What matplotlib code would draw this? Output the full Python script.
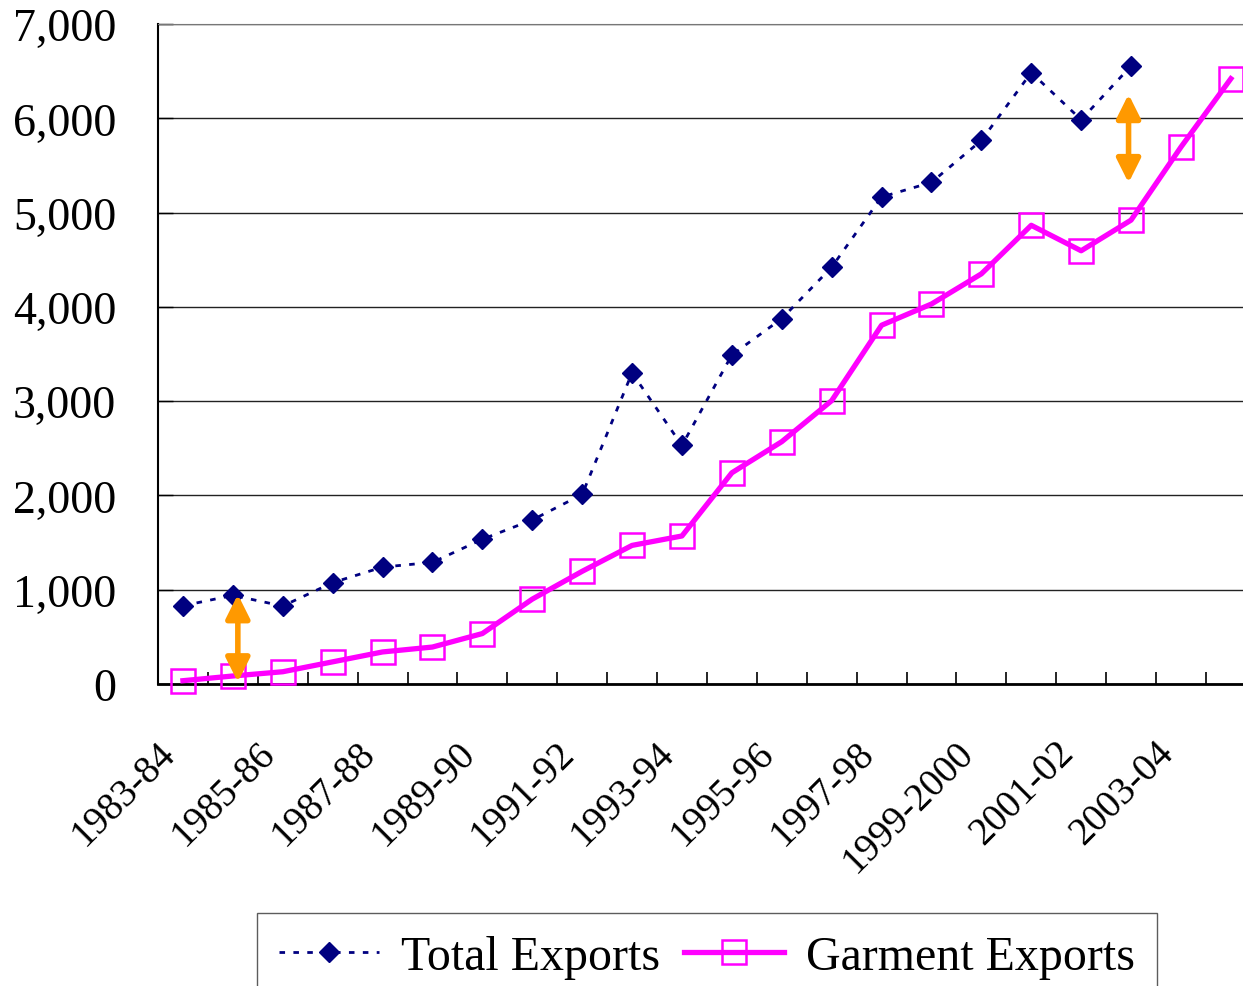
import numpy as np
import matplotlib
matplotlib.use("Agg")
import matplotlib.pyplot as plt

plt.rcParams['font.family'] = ['Liberation Serif', 'DejaVu Serif']

# fiscal years on the x axis
years = ["1983-84", "1984-85", "1985-86", "1986-87", "1987-88", "1988-89",
         "1989-90", "1990-91", "1991-92", "1992-93", "1993-94", "1994-95",
         "1995-96", "1996-97", "1997-98", "1998-99", "1999-2000", "2000-01",
         "2001-02", "2002-03", "2003-04", "2004-05"]

# values (US$ million)
total_exports = [830, 940, 827, 1075, 1240, 1290, 1535, 1740, 2010, 3300,
                 2530, 3490, 3875, 4420, 5165, 5320, 5765, 6485, 5985, 6555]
garment_exports = [35, 85, 130, 235, 340, 392, 535, 900, 1195, 1470,
                   1570, 2240, 2570, 3005, 3805, 4030, 4350, 4865, 4595, 4920,
                   5695, 6420]

# the two gap arrows: (x position in category units, low, high)
gap_arrows = [(1.1, 20, 950), (18.95, 5315, 6255)]

W, H = 1243, 987
fig = plt.figure(figsize=(W / 100, H / 100), dpi=100)
left_px, bottom_px, top_px = 158, 685, 25
ax = fig.add_axes([left_px / W, 1 - bottom_px / H,
                   (W - left_px) / W, (bottom_px - top_px) / H])

step = 49.9  # pixels per category
x_tot = np.arange(len(total_exports))
x_gar = np.arange(len(garment_exports))

ax.plot(x_tot, total_exports, color='#000080', lw=2, linestyle=(0, (2, 3)),
        marker='D', ms=10.5, mfc='#000080', mec='#000080',
        label='Total Exports', clip_on=False, zorder=4)
ax.plot(x_gar, garment_exports, color='#FF00FF', lw=3.8,
        marker='s', ms=17.5, mfc='none', mec='#FF00FF', mew=1.8,
        label='Garment Exports', clip_on=False, zorder=5)

for xa, lo, hi in gap_arrows:
    ax.annotate('', xy=(xa, lo), xytext=(xa, hi),
                arrowprops=dict(arrowstyle='<|-|>', color='#FF9900', lw=4,
                                mutation_scale=36, shrinkA=0, shrinkB=0),
                zorder=6)

ax.set_yticks(np.arange(0, 7001, 1000))
ax.set_yticklabels([f"{v:,}" for v in range(0, 7001, 1000)], fontsize=33)
ax.yaxis.grid(True, color='#222222', lw=1)
ax.set_axisbelow(True)

ax.set_xticks(x_gar[::2])
ax.set_xticklabels(years[::2], rotation=45, ha='right', fontsize=28)
ax.set_xticks(np.arange(-0.5, len(years), 1), minor=True)
ax.tick_params(axis='x', which='major', length=0, pad=36)
ax.tick_params(axis='x', which='minor', direction='in', length=9, width=1.2)
ax.tick_params(axis='y', direction='in', length=11, width=1, pad=30)

# limits after the ticks, set_xticks would widen them
ax.set_ylim(0, 7000)
ax.set_xlim(-0.5, -0.5 + (W - left_px) / step)

ax.spines['right'].set_visible(False)
ax.spines['top'].set_color('#777777')
ax.spines['left'].set_linewidth(1.5)
ax.spines['bottom'].set_linewidth(2)

fig.legend(loc='upper left', bbox_to_anchor=(257 / W, 1 - 914 / H),
           ncol=2, fontsize=34.5, frameon=True, fancybox=False,
           edgecolor='#333333', borderaxespad=0, handlelength=2.1,
           handletextpad=0.45, columnspacing=0.5, borderpad=0.45)

fig.savefig('out.png', dpi=100)
